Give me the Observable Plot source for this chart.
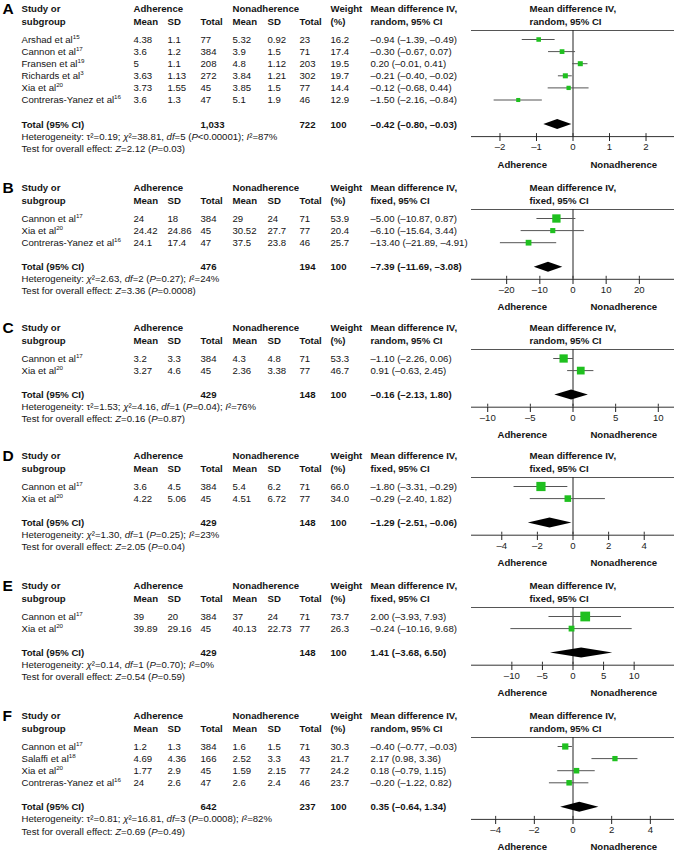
<!DOCTYPE html>
<html><head><meta charset="utf-8">
<script src="https://cdn.jsdelivr.net/npm/d3@7"></script>
<script src="https://cdn.jsdelivr.net/npm/@observablehq/plot@0.6"></script>
<style>
body{margin:0;background:#fff;}
#root{position:relative;width:674px;height:854px;overflow:hidden;background:#fff;}
.panel{position:absolute;left:0;}
</style></head><body><div id="root"></div>
<script>
// ---------- DATA ----------
// Panel A
const studiesA = ["Arshad et al<sup>15</sup>", "Cannon et al<sup>17</sup>", "Fransen et al<sup>19</sup>", "Richards et al<sup>3</sup>", "Xia et al<sup>20</sup>", "Contreras-Yanez et al<sup>16</sup>"];
const adhA = [[4.38, 1.1, 77], [3.6, 1.2, 384], [5, 1.1, 208], [3.63, 1.13, 272], [3.73, 1.55, 45], [3.6, 1.3, 47]];
const nonA = [[5.32, 0.92, 23], [3.9, 1.5, 71], [4.8, 1.12, 203], [3.84, 1.21, 302], [3.85, 1.5, 77], [5.1, 1.9, 46]];
const weightA = [16.2, 17.4, 19.5, 19.7, 14.4, 12.9];
const mdA = [[-0.94, -1.39, -0.49], [-0.30, -0.67, 0.07], [0.20, -0.01, 0.41], [-0.21, -0.40, -0.02], [-0.12, -0.68, 0.44], [-1.50, -2.16, -0.84]];
const totalA = [1033, 722, -0.42, -0.80, -0.03];
const hetA = "Heterogeneity: τ²=0.19; <i>χ</i>²=38.81, <i>df</i>=5 (<i>P</i><0.00001); <i>I</i>²=87%";
const testA = "Test for overall effect: <i>Z</i>=2.12 (<i>P</i>=0.03)";
const ticksA = [-2, -1, 0, 1, 2];

// Panel B
const studiesB = ["Cannon et al<sup>17</sup>", "Xia et al<sup>20</sup>", "Contreras-Yanez et al<sup>16</sup>"];
const adhB = [[24, 18, 384], [24.42, 24.86, 45], [24.1, 17.4, 47]];
const nonB = [[29, 24, 71], [30.52, 27.7, 77], [37.5, 23.8, 46]];
const weightB = [53.9, 20.4, 25.7];
const mdB = [[-5.00, -10.87, 0.87], [-6.10, -15.64, 3.44], [-13.40, -21.89, -4.91]];
const totalB = [476, 194, -7.39, -11.69, -3.08];
const hetB = "Heterogeneity: <i>χ</i>²=2.63, <i>df</i>=2 (<i>P</i>=0.27); <i>I</i>²=24%";
const testB = "Test for overall effect: <i>Z</i>=3.36 (<i>P</i>=0.0008)";
const ticksB = [-20, -10, 0, 10, 20];

// Panel C
const studiesC = ["Cannon et al<sup>17</sup>", "Xia et al<sup>20</sup>"];
const adhC = [[3.2, 3.3, 384], [3.27, 4.6, 45]];
const nonC = [[4.3, 4.8, 71], [2.36, 3.38, 77]];
const weightC = [53.3, 46.7];
const mdC = [[-1.10, -2.26, 0.06], [0.91, -0.63, 2.45]];
const totalC = [429, 148, -0.16, -2.13, 1.80];
const hetC = "Heterogeneity: τ²=1.53; <i>χ</i>²=4.16, <i>df</i>=1 (<i>P</i>=0.04); <i>I</i>²=76%";
const testC = "Test for overall effect: <i>Z</i>=0.16 (<i>P</i>=0.87)";
const ticksC = [-10, -5, 0, 5, 10];

// Panel D
const studiesD = ["Cannon et al<sup>17</sup>", "Xia et al<sup>20</sup>"];
const adhD = [[3.6, 4.5, 384], [4.22, 5.06, 45]];
const nonD = [[5.4, 6.2, 71], [4.51, 6.72, 77]];
const weightD = [66.0, 34.0];
const mdD = [[-1.80, -3.31, -0.29], [-0.29, -2.40, 1.82]];
const totalD = [429, 148, -1.29, -2.51, -0.06];
const hetD = "Heterogeneity: <i>χ</i>²=1.30, <i>df</i>=1 (<i>P</i>=0.25); <i>I</i>²=23%";
const testD = "Test for overall effect: <i>Z</i>=2.05 (<i>P</i>=0.04)";
const ticksD = [-4, -2, 0, 2, 4];

// Panel E
const studiesE = ["Cannon et al<sup>17</sup>", "Xia et al<sup>20</sup>"];
const adhE = [[39, 20, 384], [39.89, 29.16, 45]];
const nonE = [[37, 24, 71], [40.13, 22.73, 77]];
const weightE = [73.7, 26.3];
const mdE = [[2.00, -3.93, 7.93], [-0.24, -10.16, 9.68]];
const totalE = [429, 148, 1.41, -3.68, 6.50];
const hetE = "Heterogeneity: <i>χ</i>²=0.14, <i>df</i>=1 (<i>P</i>=0.70); <i>I</i>²=0%";
const testE = "Test for overall effect: <i>Z</i>=0.54 (<i>P</i>=0.59)";
const ticksE = [-10, -5, 0, 5, 10];

// Panel F
const studiesF = ["Cannon et al<sup>17</sup>", "Salaffi et al<sup>18</sup>", "Xia et al<sup>20</sup>", "Contreras-Yanez et al<sup>16</sup>"];
const adhF = [[1.2, 1.3, 384], [4.69, 4.36, 166], [1.77, 2.9, 45], [24, 2.6, 47]];
const nonF = [[1.6, 1.5, 71], [2.52, 3.3, 43], [1.59, 2.15, 77], [2.6, 2.4, 46]];
const weightF = [30.3, 21.7, 24.2, 23.7];
const mdF = [[-0.40, -0.77, -0.03], [2.17, 0.98, 3.36], [0.18, -0.79, 1.15], [-0.20, -1.22, 0.82]];
const totalF = [642, 237, 0.35, -0.64, 1.34];
const hetF = "Heterogeneity: τ²=0.81; <i>χ</i>²=16.81, <i>df</i>=3 (<i>P</i>=0.0008); <i>I</i>²=82%";
const testF = "Test for overall effect: <i>Z</i>=0.69 (<i>P</i>=0.49)";
const ticksF = [-4, -2, 0, 2, 4];

const panelLetters = ["A", "B", "C", "D", "E", "F"];
const panelMethods = ["random", "fixed", "random", "fixed", "fixed", "random"];

// ---------- LAYOUT ----------
const panels = [
  {letter: "A", method: panelMethods[0], studies: studiesA, adh: adhA, non: nonA, weight: weightA, md: mdA, total: totalA, het: hetA, test: testA, ticks: ticksA, half: 2.78, top: 8},
  {letter: "B", method: panelMethods[1], studies: studiesB, adh: adhB, non: nonB, weight: weightB, md: mdB, total: totalB, het: hetB, test: testB, ticks: ticksB, half: 30.6, top: 187},
  {letter: "C", method: panelMethods[2], studies: studiesC, adh: adhC, non: nonC, weight: weightC, md: mdC, total: totalC, het: hetC, test: testC, ticks: ticksC, half: 11.9, top: 327},
  {letter: "D", method: panelMethods[3], studies: studiesD, adh: adhD, non: nonD, weight: weightD, md: mdD, total: totalD, het: hetD, test: testD, ticks: ticksD, half: 5.7, top: 455},
  {letter: "E", method: panelMethods[4], studies: studiesE, adh: adhE, non: nonE, weight: weightE, md: mdE, total: totalE, het: hetE, test: testE, ticks: ticksE, half: 16.6, top: 585},
  {letter: "F", method: panelMethods[5], studies: studiesF, adh: adhF, non: nonF, weight: weightF, md: mdF, total: totalF, het: hetF, test: testF, ticks: ticksF, half: 5.25, top: 715}
];

const ML = 471, W = 674, PX = 12.1, FS = 9.6;
const COL = {letter: 2, study: 21, adhMean: 133, adhSD: 167, adhN: 200, nonMean: 232, nonSD: 267, nonN: 299, weight: 330, md: 370, forest: 529};
const INK = "#141414", GREEN = "#1fc01f", FONT = "'Liberation Sans', Arial, Helvetica, sans-serif";

const fmt = v => (v < 0 ? "–" : "") + Math.abs(v).toFixed(2);
const ciText = (m, lo, hi) => `${fmt(m)} (${fmt(lo)}, ${fmt(hi)})`;
const tickFmt = d => d < 0 ? "–" + Math.abs(d) : String(d);

function richify(svg) {
  d3.select(svg).selectAll("text").each(function () {
    const t = this.textContent;
    if (!/<\/?(i|sup)>/.test(t)) return;
    const parts = t.split(/(<\/?(?:i|sup)>)/);
    while (this.firstChild) this.removeChild(this.firstChild);
    let italic = false, sup = false, down = false;
    for (const p of parts) {
      if (p === "<i>") italic = true;
      else if (p === "</i>") italic = false;
      else if (p === "<sup>") sup = true;
      else if (p === "</sup>") { sup = false; down = true; }
      else if (p) {
        const ts = d3.select(this).append("tspan").text(p);
        if (italic) ts.attr("font-style", "italic");
        if (sup) ts.attr("font-size", "6.2px").attr("dy", "-3.6");
        else if (down) { ts.attr("dy", "3.6"); down = false; }
      }
    }
  });
}

function buildPanel(p) {
  const n = p.studies.length;
  const rows = p.studies.map((s, i) => ({
    i, name: s,
    am: String(p.adh[i][0]), as: String(p.adh[i][1]), an: String(p.adh[i][2]),
    nm: String(p.non[i][0]), ns: String(p.non[i][1]), nn: String(p.non[i][2]),
    w: p.weight[i], wt: p.weight[i].toFixed(1),
    md: p.md[i][0], lo: p.md[i][1], hi: p.md[i][2],
    mdt: ciText(p.md[i][0], p.md[i][1], p.md[i][2])
  }));
  const yHead1 = -31 / PX, yHead2 = -18 / PX, yRule = -9 / PX;
  const yTotal = n - 1 + 24.5 / PX;
  const yAxis = yTotal + 1;
  const yTop = -(10 + 31) / PX;
  const axisPx = (yAxis - yTop) * PX;
  const MB = 44;
  const H = Math.round(axisPx + MB);
  const half = p.half;
  const dh = 5 / PX;
  const tot = p.total;

  const T = (data, px, opts) => Plot.text(data, {frameAnchor: "left", textAnchor: "start", dx: px - ML, fill: INK, fontSize: FS, ...opts});
  const one = [0];
  const cell = (px, y, text, bold) => T(one, px, {y: () => y, text: () => text, fontWeight: bold ? "bold" : "normal"});

  const method = p.method + ", 95% CI";
  const header = [
    cell(COL.study, yHead1, "Study or", true), cell(COL.adhMean, yHead1, "Adherence", true),
    cell(COL.nonMean, yHead1, "Nonadherence", true), cell(COL.weight, yHead1, "Weight", true),
    cell(COL.md, yHead1, "Mean difference IV,", true), cell(COL.forest, yHead1, "Mean difference IV,", true),
    cell(COL.study, yHead2, "subgroup", true), cell(COL.adhMean, yHead2, "Mean", true),
    cell(COL.adhSD, yHead2, "SD", true), cell(COL.adhN, yHead2, "Total", true),
    cell(COL.nonMean, yHead2, "Mean", true), cell(COL.nonSD, yHead2, "SD", true),
    cell(COL.nonN, yHead2, "Total", true), cell(COL.weight, yHead2, "(%)", true),
    cell(COL.md, yHead2, method, true), cell(COL.forest, yHead2, method, true)
  ];
  const body = [
    ["name", COL.study], ["am", COL.adhMean], ["as", COL.adhSD], ["an", COL.adhN],
    ["nm", COL.nonMean], ["ns", COL.nonSD], ["nn", COL.nonN], ["wt", COL.weight], ["mdt", COL.md]
  ].map(([k, px]) => T(rows, px, {y: "i", text: k}));
  const totals = [
    cell(COL.study, yTotal, "Total (95% CI)", true),
    cell(COL.adhN, yTotal, d3.format(",")(tot[0]), true),
    cell(COL.nonN, yTotal, d3.format(",")(tot[1]), true),
    cell(COL.weight, yTotal, "100", true),
    cell(COL.md, yTotal, ciText(tot[2], tot[3], tot[4]), true),
    cell(COL.study, yAxis, p.het, false),
    cell(COL.study, yAxis + 1, p.test, false)
  ];
  const diamond = [
    {x: tot[3], y1: yTotal, y2: yTotal},
    {x: tot[2], y1: yTotal - dh, y2: yTotal + dh},
    {x: tot[4], y1: yTotal, y2: yTotal}
  ];

  const chart = Plot.plot({
    width: W, height: H,
    marginLeft: ML, marginRight: 0, marginTop: 0, marginBottom: MB,
    style: {fontFamily: FONT, fontSize: FS + "px", color: INK, background: "transparent", overflow: "visible"},
    x: {domain: [-half, half]},
    y: {domain: [yTop, yAxis], range: [0, axisPx], axis: null},
    r: {type: "sqrt", domain: [0, 100], range: [0, 6.4]},
    marks: [
      cell(COL.letter, yHead1 + 0.05, p.letter, true),
      ...header, ...body, ...totals,
      Plot.ruleY([yRule], {stroke: "#555", strokeWidth: 1}),
      Plot.ruleX([0], {y1: yRule, y2: yAxis, stroke: "#222", strokeWidth: 1}),
      Plot.ruleY(rows, {y: "i", x1: "lo", x2: "hi", stroke: "#555", strokeWidth: 1}),
      Plot.dot(rows, {x: "md", y: "i", r: "w", symbol: "square", fill: GREEN, stroke: "none"}),
      Plot.areaY(diamond, {x: "x", y1: "y1", y2: "y2", fill: "#000", curve: "linear"}),
      Plot.ruleY([yAxis], {stroke: "#333", strokeWidth: 1}),
      Plot.ruleX(p.ticks, {x: d => d, y1: yAxis - 3 / PX, y2: yAxis, stroke: "#333"}),
      Plot.axisX(p.ticks, {anchor: "bottom", tickSize: 5, tickPadding: 2, tickFormat: tickFmt, fontSize: FS, color: "#222"}),
      Plot.text(["Adherence", "Nonadherence"], {x: (d, i) => (i ? 1 : -1) * half / 2, y: () => yAxis + 2.3, text: d => d, fontWeight: "bold", fontSize: FS, fill: INK})
    ]
  });
  // the letter is larger
  richify(chart);
  return {chart, H};
}

const root = document.getElementById("root");
for (const p of panels) {
  const {chart} = buildPanel(p);
  const div = document.createElement("div");
  div.className = "panel";
  div.style.top = (p.top - 10) + "px";
  div.appendChild(chart);
  root.appendChild(div);
  // enlarge the panel letter (first text mark)
  const letterText = chart.querySelector("g[aria-label='text'] text");
  if (letterText) { letterText.setAttribute("font-size", "15.5px"); letterText.setAttribute("fill", "#000"); }
}
</script></body></html>
